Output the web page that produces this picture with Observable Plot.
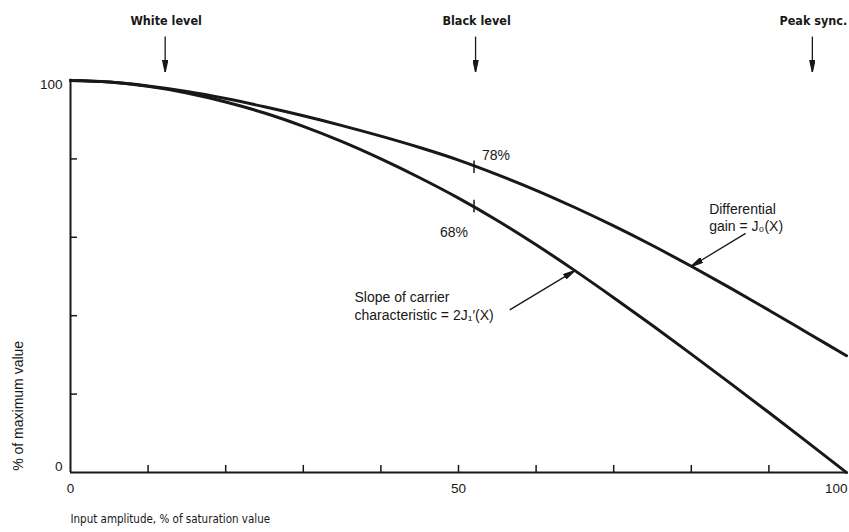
<!DOCTYPE html>
<html>
<head>
<meta charset="utf-8">
<script src="https://cdn.jsdelivr.net/npm/d3@7"></script>
<script src="https://cdn.jsdelivr.net/npm/@observablehq/plot@0.6"></script>
<style>
  html, body { margin: 0; padding: 0; background: #fff; }
  #chart svg { display: block; background: #fff; }
</style>
</head>
<body>
<div id="chart"></div>
<script>
// Input amplitude, % of saturation value
const inputPct = [0, 5, 10, 15, 20, 25, 30, 35, 40, 45, 50, 55, 60, 65, 70, 75, 80, 85, 90, 95, 100];
// Differential gain = J0(X), % of maximum value
const diffGain = [100, 99.6, 98.6, 97.2, 95.4, 93.3, 91.0, 88.5, 85.8, 82.9, 79.7, 76.0, 72.0, 67.6, 62.9, 57.9, 52.6, 47.1, 41.4, 35.6, 29.8];
// Slope of carrier characteristic = 2J1'(X), % of maximum value
const carrierSlope = [100, 99.6, 98.5, 96.8, 94.5, 91.7, 88.3, 84.4, 80.0, 75.2, 70.0, 64.3, 58.1, 51.5, 44.6, 37.5, 30.2, 22.8, 15.3, 7.7, 0];

// Axis ticks and labels
const xMinorTicks = [10, 20, 30, 40, 50, 60, 70, 80, 90];
const xTickLabels = [0, 50];
const xEndLabel = [100];
const yMinorTicks = [20, 40, 60, 80];
const yTopLabel = [100];
const yBottomLabel = [0];

// Signal levels marked above the plot
const levelNames = ["White level", "Black level", "Peak sync."];
const levelInput = [12.2, 52.2, 95.6];

// Readings at black level
const readingInput = [52, 52];
const readingValue = [78, 68];
const readingText = ["78%", "68%"];

const ink = "#181818";
const font = "'Liberation Sans', Arial, Helvetica, sans-serif";
const narrow = "'Liberation Sans Narrow', 'Arial Narrow', 'DejaVu Sans Condensed', 'Liberation Sans', sans-serif";

const curveRows = inputPct.map((x, i) => ({x, gain: diffGain[i], slope: carrierSlope[i]}));
const levels = levelNames.map((name, i) => ({name, x: levelInput[i]}));
const readings = readingText.map((t, i) => ({x: readingInput[i], y: readingValue[i], t}));

// Filled wedge arrowhead
function wedge(color, context) {
  return d3.create("svg:marker")
    .attr("viewBox", "0 -3 12 6")
    .attr("refX", 12)
    .attr("refY", 0)
    .attr("markerWidth", 12)
    .attr("markerHeight", 6)
    .attr("markerUnits", "userSpaceOnUse")
    .attr("orient", "auto")
    .call(m => m.append("path").attr("d", "M0,-2.6L12,0L0,2.6Z").attr("fill", ink))
    .node();
}

// Callouts pointing at the two curves
const gainTip = curveRows[16];   // 80 %
const slopeTip = curveRows[13];  // 65 %
const callouts = [
  {x1: 87.0, y1: 61.0, x2: gainTip.x, y2: gainTip.gain},
  {x1: 56.6, y1: 41.5, x2: slopeTip.x, y2: slopeTip.slope}
];
const calloutText = [
  {x: 82.3, y: 65.2, t: "Differential\ngain = J\u2080(X)"},
  {x: 36.6, y: 42.6, t: "Slope of carrier\ncharacteristic = 2J\u2081\u2032(X)"}
];

const chart = Plot.plot({
  width: 849,
  height: 532,
  marginLeft: 70,
  marginRight: 3,
  marginTop: 80,
  marginBottom: 60,
  style: {fontFamily: font, color: ink, background: "#fff"},
  x: {domain: [0, 100], axis: null},
  y: {domain: [0, 100], axis: null},
  marks: [
    // axis lines
    Plot.ruleX([0], {y1: 0, y2: 100.3, stroke: ink, strokeWidth: 2}),
    Plot.ruleY([0], {x1: 0, x2: 100, stroke: ink, strokeWidth: 2}),
    // inward tick marks
    Plot.ruleX(xMinorTicks, {y1: 0, y2: 1.8, stroke: ink, strokeWidth: 1.5}),
    Plot.ruleY(yMinorTicks, {x1: 0, x2: 0.9, stroke: ink, strokeWidth: 1.5}),
    // tick labels
    Plot.text(xTickLabels, {x: d => d, y: 0, dy: 16, fontSize: 13.5, fill: ink}),
    Plot.text(xEndLabel, {x: d => d, y: 0, dy: 16, dx: 1, textAnchor: "end", fontSize: 13.5, fill: ink}),
    Plot.text(yTopLabel, {x: 0, y: d => d, dx: -8, dy: 4, textAnchor: "end", fontSize: 13.5, fill: ink}),
    Plot.text(yBottomLabel, {x: 0, y: d => d, dx: -8, dy: -6, textAnchor: "end", fontSize: 13.5, fill: ink}),
    // axis titles
    Plot.text(["Input amplitude, % of saturation value"], {frameAnchor: "bottom-left", textAnchor: "start", dy: 50, fontSize: 11.5, fontFamily: narrow, fill: ink}),
    Plot.text(["% of maximum value"], {x: 0, y: 17, rotate: -90, dx: -52, fontSize: 14, fill: ink}),
    // curves
    Plot.line(curveRows, {x: "x", y: "gain", stroke: ink, strokeWidth: 3, curve: "monotone-x"}),
    Plot.line(curveRows, {x: "x", y: "slope", stroke: ink, strokeWidth: 3, curve: "monotone-x"}),
    // black-level readings
    Plot.link(readings, {x1: "x", x2: "x", y1: d => d.y - 1.6, y2: d => d.y + 1.6, stroke: ink, strokeWidth: 1.5}),
    Plot.text(readings.filter(d => d.y === 78), {x: "x", y: "y", text: "t", dx: 22, dy: -11, fontSize: 14, fill: ink}),
    Plot.text(readings.filter(d => d.y === 68), {x: "x", y: "y", text: "t", dx: -20, dy: 27, fontSize: 14, fill: ink}),
    // signal levels
    Plot.text(levels, {x: "x", y: 115.3, text: "name", dx: 1, fontSize: 12.5, fontWeight: "bold", fontFamily: narrow, fill: ink}),
    Plot.link(levels, {x1: "x", x2: "x", y1: 111.2, y2: 102.2, stroke: ink, strokeWidth: 1.3, markerEnd: wedge}),
    // callouts
    Plot.link(callouts, {x1: "x1", y1: "y1", x2: "x2", y2: "y2", stroke: ink, strokeWidth: 1.3, markerEnd: wedge}),
    Plot.text(calloutText, {x: "x", y: "y", text: "t", textAnchor: "start", lineHeight: 1.25, fontSize: 14, fill: ink})
  ]
});

document.getElementById("chart").appendChild(chart);
</script>
</body>
</html>
